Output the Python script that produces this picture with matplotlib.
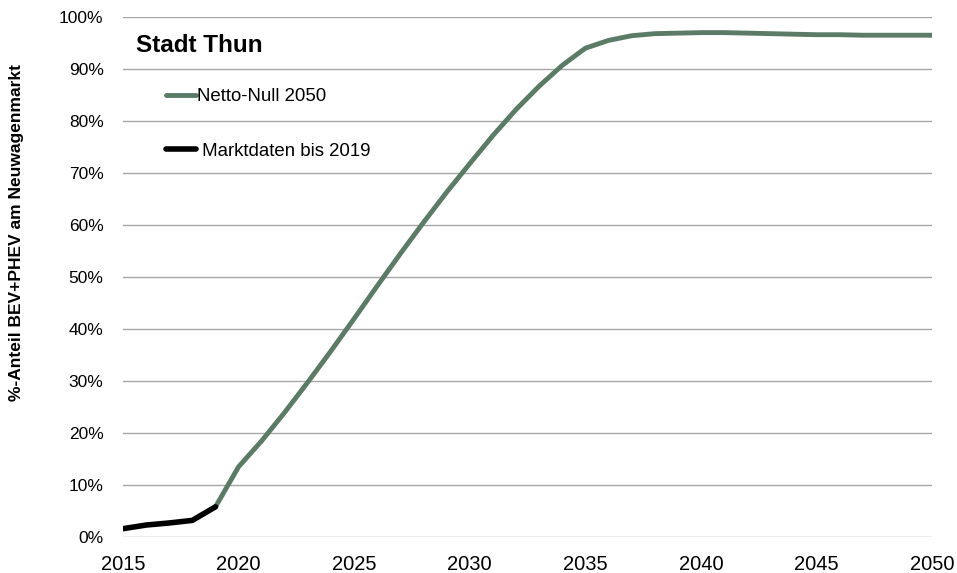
import matplotlib as mpl
mpl.use('Agg')
import matplotlib.pyplot as plt
from matplotlib.ticker import PercentFormatter

plt.rcParams['font.family'] = ['Liberation Sans', 'DejaVu Sans']

# market data up to 2019
years_hist = [2015, 2016, 2017, 2018, 2019]
share_hist = [1.6, 2.3, 2.7, 3.2, 5.8]

# net zero 2050 path
years_nz = list(range(2019, 2051))
share_nz = [5.8, 13.5, 18.5, 24.0, 29.8, 35.8, 42.0, 48.3, 54.5, 60.5,
            66.3, 71.8, 77.2, 82.2, 86.7, 90.7, 94.0, 95.5, 96.4, 96.8,
            96.9, 97.0, 97.0, 96.9, 96.8, 96.7, 96.6, 96.6, 96.5, 96.5,
            96.5, 96.5]

fig = plt.figure(figsize=(9.57, 5.73), dpi=100)
ax = fig.add_axes([0.1285, 0.0628, 0.8455, 0.9075])

ax.plot(years_nz, share_nz, color='#5B7B67', lw=3.5, label='Netto-Null 2050',
        solid_capstyle='round')
ax.plot(years_hist, share_hist, color='black', lw=4, label=' Marktdaten bis 2019',
        solid_capstyle='round')

ax.set_xlim(2015, 2050)
ax.set_ylim(0, 100)
ax.set_yticks(range(0, 101, 10))
ax.yaxis.set_major_formatter(PercentFormatter(decimals=0))
ax.set_xticks(range(2015, 2051, 5))
ax.tick_params(axis='y', length=0, labelsize=12.5, pad=14)
ax.tick_params(axis='x', length=0, labelsize=14.5, pad=13)
ax.grid(axis='y', color='#a6a6a6', lw=1)
ax.set_axisbelow(True)
for s in ax.spines.values():
    s.set_visible(False)

ax.set_ylabel('%-Anteil BEV+PHEV am Neuwagenmarkt', fontsize=12.5,
              fontweight='bold')
ax.yaxis.set_label_coords(-0.122, 0.585)

ax.text(0.016, 0.946, 'Stadt Thun', transform=ax.transAxes, fontsize=17.5,
        fontweight='bold', va='center', ha='left')

leg = ax.legend(loc='upper left', bbox_to_anchor=(0.033, 0.895), frameon=False,
                fontsize=13.4, handlelength=1.6, handletextpad=0.05,
                labelspacing=2.0)

fig.savefig('out.png', dpi=100)
